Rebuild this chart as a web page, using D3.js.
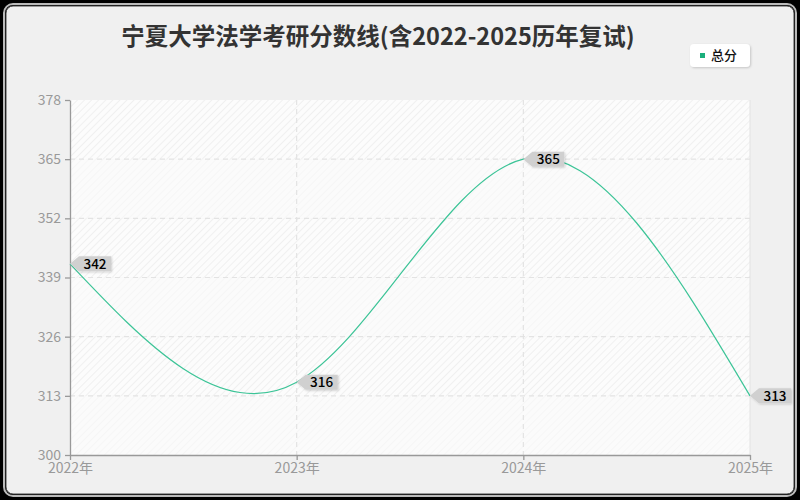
<!DOCTYPE html>
<html><head><meta charset="utf-8">
<script src="https://cdn.jsdelivr.net/npm/d3@7"></script>
<style>
html,body{margin:0;padding:0;background:#000;}
svg{display:block;font-family:"Noto Sans CJK SC","Noto Sans",sans-serif;}
</style></head>
<body>
<svg id="c" width="800" height="500"></svg>
<script>
const title = "宁夏大学法学考研分数线(含2022-2025历年复试)";
const years = ["2022年","2023年","2024年","2025年"];
const totalScores = [342, 316, 365, 313];
const yTicks = [300, 313, 326, 339, 352, 365, 378];
const seriesName = "总分";

const svg = d3.select("#c");
const m = {left:70, right:750, top:100, bottom:455};

const defs = svg.append("defs");
const pat = defs.append("pattern").attr("id","hatch").attr("patternUnits","userSpaceOnUse")
  .attr("width",5).attr("height",5).attr("patternTransform","rotate(45)");
pat.append("rect").attr("width",5).attr("height",5).attr("fill","#fcfcfc");
pat.append("line").attr("x1",0).attr("y1",0).attr("x2",0).attr("y2",5).attr("stroke","#ececec").attr("stroke-width",1.4);
const pat2 = defs.append("pattern").attr("id","hatch2").attr("patternUnits","userSpaceOnUse")
  .attr("width",5).attr("height",5).attr("patternTransform","rotate(45)");
pat2.append("rect").attr("width",5).attr("height",5).attr("fill","#fbfbfb");
pat2.append("line").attr("x1",0).attr("y1",0).attr("x2",0).attr("y2",5).attr("stroke","#f3f3f3").attr("stroke-width",1.2);
const sh = defs.append("filter").attr("id","sh").attr("x","-20%").attr("y","-30%").attr("width","140%").attr("height","170%");
sh.append("feDropShadow").attr("dx",1).attr("dy",1).attr("stdDeviation",0.8).attr("flood-color","#000").attr("flood-opacity",0.18);

// outer frame
svg.append("rect").attr("x",4).attr("y",4).attr("width",792).attr("height",492).attr("rx",9)
  .attr("fill","none").attr("stroke","#bbb").attr("stroke-width",2);
svg.append("rect").attr("x",6).attr("y",6).attr("width",788).attr("height",488).attr("rx",7)
  .attr("fill","#f0f0f0").attr("stroke","#444").attr("stroke-width",1);

const x = d3.scalePoint().domain(years).range([m.left, m.right]);
const y = d3.scaleLinear().domain([300, 378]).range([m.bottom, m.top]);

// plot background bands
for (let i = 0; i < yTicks.length - 1; i++) {
  const top = y(yTicks[i+1]), bot = y(yTicks[i]);
  svg.append("rect").attr("x",m.left).attr("y",top).attr("width",m.right-m.left).attr("height",bot-top)
    .attr("fill", (yTicks.length - 2 - i) % 2 === 0 ? "url(#hatch)" : "url(#hatch2)");
}
svg.append("line").attr("x1",m.right).attr("x2",m.right).attr("y1",m.top).attr("y2",m.bottom)
  .attr("stroke","#e2e2e2");

// grid
svg.append("g").selectAll("line").data(yTicks.slice(1,-1)).join("line")
  .attr("x1",m.left).attr("x2",m.right).attr("y1",d=>y(d)).attr("y2",d=>y(d))
  .attr("stroke","#e3e3e3").attr("stroke-width",1.2).attr("stroke-dasharray","5,4");
svg.append("g").selectAll("line").data(years.slice(1,-1)).join("line")
  .attr("x1",d=>x(d)).attr("x2",d=>x(d)).attr("y1",m.top).attr("y2",m.bottom)
  .attr("stroke","#e3e3e3").attr("stroke-width",1.2).attr("stroke-dasharray","5,4");

// axes
const yAxis = svg.append("g").attr("transform",`translate(${m.left},0)`)
  .call(d3.axisLeft(y).tickValues(yTicks).tickSize(5).tickSizeOuter(0).tickPadding(4));
const xAxis = svg.append("g").attr("transform",`translate(0,${m.bottom})`)
  .call(d3.axisBottom(x).tickSize(5).tickSizeOuter(0).tickPadding(3));
[yAxis, xAxis].forEach(g => {
  g.select(".domain").attr("stroke","#999").attr("stroke-width",1.3);
  g.selectAll(".tick line").attr("stroke","#999").attr("stroke-width",1.3);
  g.selectAll(".tick text").attr("fill","#999").attr("font-size",14)
    .attr("font-family",'"Noto Sans CJK SC","Noto Sans",sans-serif');
});

// line
const pts = years.map((yr,i)=>[x(yr), y(totalScores[i])]);
svg.append("path").datum(pts)
  .attr("d", d3.line().curve(d3.curveNatural))
  .attr("fill","none").attr("stroke","#3cc497").attr("stroke-width",1.2);

// labels
const lab = svg.append("g").selectAll("g").data(pts).join("g")
  .attr("transform", d=>`translate(${d[0]},${d[1]})`);
lab.append("path")
  .attr("d","M0,0 L9,-7.5 L41,-7.5 L41,7.5 L9,7.5 Z")
  .attr("fill","#d0d0d0").attr("filter","url(#sh)");
lab.append("text").attr("x",25).attr("y",4.8).attr("text-anchor","middle")
  .attr("font-size",13.5).attr("font-weight",500).attr("fill","#000")
  .text((d,i)=>totalScores[i]);

// title
svg.append("text").attr("x",378).attr("y",45).attr("text-anchor","middle")
  .attr("font-size",23.5).attr("font-weight",700).attr("fill","#333").text(title);

// legend
const lg = svg.append("g").attr("transform","translate(690,44)");
lg.append("rect").attr("width",60).attr("height",23).attr("rx",4).attr("fill","#fff")
  .attr("filter","url(#sh)");
lg.append("rect").attr("x",10).attr("y",9).attr("width",5).attr("height",5).attr("fill","#1aaf7c");
lg.append("text").attr("x",21).attr("y",16).attr("font-size",13).attr("font-weight",500)
  .attr("fill","#111").text(seriesName);
</script>
</body></html>
